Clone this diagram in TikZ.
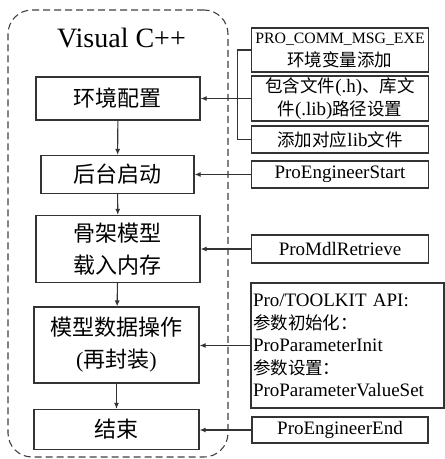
\documentclass[tikz,border=0pt]{standalone}
\usepackage{fontspec}
\setmainfont{Liberation Serif}
\newfontfamily\cjk{Noto Sans CJK SC}
\usetikzlibrary{arrows.meta, positioning}
\newcommand{\zh}[1]{{\cjk\fontsize{17.5}{23}\selectfont #1}}

\begin{document}
\begin{tikzpicture}[
  x=1pt, y=-1pt,
  stage/.style={draw=black!80, line width=1.2pt, inner sep=0pt, align=center, font=\cjk\fontsize{22}{32}\selectfont},
  call/.style={draw=black!80, line width=1.2pt, inner sep=0pt, align=center, minimum width=177pt, font=\fontsize{19}{23}\selectfont},
  frame/.style={draw=black!75, line width=1.1pt, dash pattern=on 7pt off 4pt, rounded corners=24pt},
  arr/.style={-{Latex[length=6pt, width=5pt]}, line width=1.1pt, black!80}
]
\useasboundingbox (0,0) rectangle (445,459);
\node[frame, minimum width=220, minimum height=447] (vc) at (118,233.5) {};
\node[font=\fontsize{28}{30}\selectfont, anchor=base] (title) at (121.5,47) {Visual C++};

% main flow
\node[stage, minimum width=164, minimum height=43] (env) at (118,98.5) {环境配置};
\node[stage, minimum width=153, minimum height=38] (boot) at (117.5,174.5) {后台启动};
\node[stage, minimum width=164, minimum height=67] (load) at (118,249) {骨架模型\\载入内存};
\node[stage, minimum width=165, minimum height=76] (oper) at (116.5,345) {模型数据操作\\\textrm{(}再封装\textrm{)}};
\node[stage, minimum width=165, minimum height=40] (stop) at (116.5,429.5) {结束};

\draw[arr] (env) -- (boot);
\draw[arr] (boot) -- (load);
\draw[arr] (load) -- (oper);
\draw[arr] (oper) -- (stop);

% functions
\node[call, minimum height=44] (msg) at (340,50) {{\fontsize{15.8}{18}\selectfont PRO\_COMM\_MSG\_EXE}\\\zh{环境变量添加}};
\node[call, minimum height=45] (inc) at (340,98.5) {\zh{包含文件}(.h)\zh{、库文}\\\zh{件}(.lib)\zh{路径设置}};
\node[call, minimum height=27] (lib) at (340,139.5) {\zh{添加对应}lib\zh{文件}};
\node[call, minimum height=27] (pes) at (340,174.5) {ProEngineerStart};
\node[call, minimum height=28] (pmr) at (340,249) {ProMdlRetrieve};
\node[call, minimum width=193, minimum height=125, align=left, text width=189, inner xsep=2pt, font=\fontsize{19}{22.5}\selectfont] (api) at (347.5,345.5)
  {Pro/TOOLKIT API:\\\zh{参数初始化：}\\ProParameterInit\\\zh{参数设置：}\\ProParameterValueSet};
\node[call, minimum width=176, minimum height=26] (pee) at (340,430) {ProEngineerEnd};

\draw[line width=1.1pt, black!80] (msg.west) -- ++(-13,0) |- (lib.west);
\draw[arr] (inc.west) -- (inc.west -| env.east);
\draw[arr] (pes.west) -- (pes.west -| boot.east);
\draw[arr] (pmr.west) -- (pmr.west -| load.east);
\draw[arr] (api.west) -- (api.west -| oper.east);
\draw[arr] (pee.west) -- (pee.west -| stop.east);
\end{tikzpicture}
\end{document}
